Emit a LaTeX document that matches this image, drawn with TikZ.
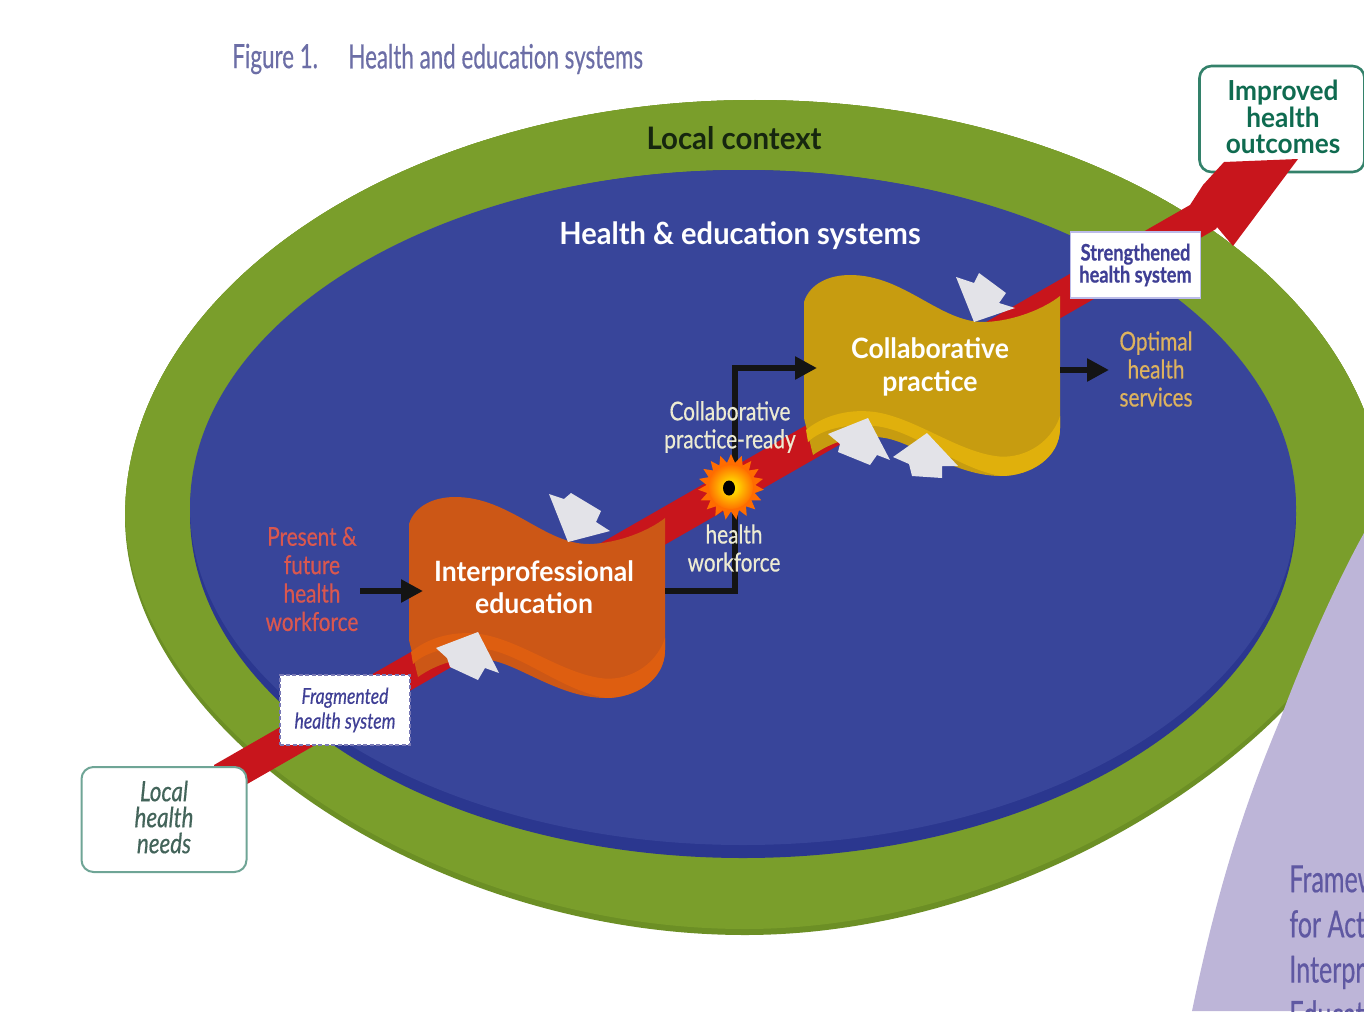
\documentclass[tikz,border=0pt]{standalone}
\usepackage{fontspec}
\usetikzlibrary{arrows.meta,shapes.geometric}
\setmainfont[FakeStretch=0.95]{Lato}
\newfontfamily\narrowfam[FakeStretch=0.8,FakeBold=0.5]{Lato}
\newfontfamily\headfam[FakeStretch=0.67,FakeBold=0.4]{Lato}
\definecolor{greenmain}{HTML}{7A9E2B}
\definecolor{greendark}{HTML}{6C8F25}
\definecolor{bluemain}{HTML}{38459A}
\definecolor{bluedark}{HTML}{2B378F}
\definecolor{lilac}{HTML}{BDB5D8}
\definecolor{lilactext}{HTML}{5F58A2}
\definecolor{redband}{HTML}{C8151C}
\definecolor{orangemain}{HTML}{CC5716}
\definecolor{orangerim}{HTML}{DE5E10}
\definecolor{goldmain}{HTML}{C79C10}
\definecolor{goldrim}{HTML}{E0B00C}
\definecolor{greyarrow}{HTML}{E3E3E8}
\definecolor{figtext}{HTML}{6C6EA6}
\definecolor{salmon}{HTML}{D9574F}
\definecolor{paletext}{HTML}{EDEBD2}
\definecolor{optimal}{HTML}{DDB25E}
\definecolor{sysblue}{HTML}{3F3F95}
\definecolor{needs}{HTML}{43645A}
\definecolor{needsline}{HTML}{6FA596}
\definecolor{outcome}{HTML}{0F6B50}
\definecolor{contexttext}{HTML}{16260F}
\tikzset{
  lbl/.style={inner sep=0pt,align=center},
  conn/.style={line width=3.4pt,black!92,-{Triangle[length=11pt,width=11pt]}},
  greyblock/.style={fill=greyarrow},
  roundbox/.style={draw,fill=white,rounded corners=6pt,inner sep=0pt,minimum width=82.5pt},
}
\newcommand{\outerpath}{(125,517) .. controls (125,287) and (407,100) .. (755,100) .. controls (1103,100) and (1385,287) .. (1385,517) .. controls (1385,690) and (1070,935) .. (745,935) .. controls (430,935) and (125,730) .. (125,517) -- cycle}
\newcommand{\flagpath}{(409,524) .. controls (415,505) and (435,497) .. (455,497) .. controls (510,497) and (545,545) .. (590,544) .. controls (620,543) and (650,530) .. (665,518) -- (665,650) .. controls (665,680) and (635,698) .. (606,698) .. controls (560,698) and (520,665) .. (490,660) .. controls (460,655) and (435,665) .. (418,677) -- (409,640) -- cycle}
\newcommand{\rimpath}{(665,638) .. controls (655,668) and (625,682) .. (600,678) .. controls (560,672) and (520,640) .. (480,634) .. controls (450,630) and (425,640) .. (411,652) -- (413,664) .. controls (425,652) and (450,645) .. (480,648) .. controls (520,652) and (560,690) .. (606,698) .. controls (635,698) and (665,680) .. (665,650) -- cycle}
\begin{document}
\begin{tikzpicture}[x=0.5pt,y=-0.5pt]
\useasboundingbox (0,0) rectangle (1364,1011);
\clip (0,0) rectangle (1364,1011);
% green context
\fill[greendark] \outerpath;
\begin{scope}
  \clip \outerpath;
  \fill[greenmain,yshift=3pt] \outerpath;
  \fill[greenmain] (0,0) rectangle (1364,500);
\end{scope}
% blue systems
\fill[bluedark] (743,514) ellipse [x radius=553,y radius=344];
\fill[bluemain] (743,507.5) ellipse [x radius=553,y radius=337.5];
% lilac
\fill[lilac] (1364,533) .. controls (1335,585) and (1300,665) .. (1280,720) .. controls (1240,815) and (1215,900) .. (1192,1011) -- (1364,1011) -- cycle;
% outcome box (under the arrow head)
\node[roundbox,draw=outcome!85,line width=1.3pt,minimum height=53pt] (outcomes) at (1282,119) {};
\node[lbl,text=outcome,font=\fontsize{13.8}{13.2}\selectfont\bfseries] (outcomestext) at (1283,117) {Improved\\health\\outcomes};
% red band
\fill[redband] (214,765) -- (1190,205) -- (1203,185) -- (1224,162) -- (1298,159) -- (1233,246) -- (1217,227) -- (1216,229) -- (214,803) -- cycle;
% flags
\fill[orangemain] \flagpath;
\fill[orangerim] \rimpath;
\begin{scope}[shift={(395,-222)}]
  \fill[goldmain] \flagpath;
  \fill[goldrim] \rimpath;
\end{scope}
% grey block arrows
\fill[greyblock] (549,494) -- (564,499) -- (571,493) -- (601,511) -- (596,522) -- (610,531) -- (568,542) -- cycle;
\fill[greyblock] (436,648) -- (478,632) -- (499,673) -- (485,668) -- (478,680) -- (450,667) -- (447,658) -- cycle;
\fill[greyblock] (828,434) -- (868,418) -- (890,460) -- (877,455) -- (870,465) -- (838,452) -- (840,444) -- cycle;
\fill[greyblock] (893,457) -- (927,433) -- (958,466) -- (942,466) -- (942,478) -- (912,476) -- (909,464) -- cycle;
\fill[greyblock] (956,277) -- (974,283) -- (979,273) -- (1006,293) -- (999,303) -- (1015,308) -- (974,322) -- cycle;
% anchor points on flags
\coordinate (ipein) at (423,591);
\coordinate (ipeout) at (665,591);
\coordinate (bend1) at (735,591);
\coordinate (bend2) at (735,368);
\coordinate (cpin) at (817,368);
\coordinate (cpout) at (1060,370);
\coordinate (optin) at (1109,370);
\coordinate (wfstart) at (360,591);
% connectors
\draw[conn] (wfstart) -- (ipein);
\draw[conn] (ipeout) -- (bend1) -- (bend2) -- (cpin);
\draw[conn] (cpout) -- (optin);
% flare
\node[star,star points=19,star point ratio=1.35,minimum size=33pt,inner sep=0pt,fill=orange!85!red] (flare) at (731,487) {};
\shade[inner color=yellow!95!orange,outer color=orange!90!red] (flare.center) circle [radius=22];
\fill[black] (729,488) ellipse [x radius=6,y radius=7.5];
% heading
\node[lbl,anchor=west,text=figtext,font=\headfam\fontsize{16.7}{18}\selectfont] (figno) at (232,59) {Figure 1.};
\node[lbl,anchor=west,text=figtext,font=\headfam\fontsize{16.7}{18}\selectfont] (figtitle) at (348,59) {Health and education systems};
\node[lbl,text=contexttext,font=\fontsize{15.5}{18}\selectfont\bfseries] (context) at (734,138) {Local context};
\node[lbl,text=white,font=\fontsize{15.3}{18}\selectfont\bfseries] (systems) at (740,236) {Health \& education systems};
\node[lbl,text=white,font=\fontsize{14}{16.2}\selectfont\bfseries] (ipe) at (534,587) {Interprofessional\\education};
\node[lbl,text=white,font=\fontsize{14}{16.5}\selectfont\bfseries] (cp) at (930,367) {Collaborative\\practice};
\node[lbl,text=salmon,font=\narrowfam\fontsize{13}{14.2}\selectfont] (present) at (312,579) {Present \&\\future\\health\\workforce};
\node[lbl,text=paletext,font=\narrowfam\fontsize{13}{14}\selectfont] (ready) at (730,427) {Collaborative\\practice-ready};
\node[lbl,text=paletext,font=\narrowfam\fontsize{13}{14}\selectfont] (workforce) at (734,548) {health\\workforce};
\node[lbl,text=optimal,font=\narrowfam\fontsize{13}{14}\selectfont] (optimal) at (1156,369) {Optimal\\health\\services};
% system boxes
\node[draw=gray!50!blue!35,fill=white,line width=0.8pt,minimum width=65pt,minimum height=33pt,inner sep=0pt,align=center,text=sysblue,font=\narrowfam\fontsize{11.4}{11}\selectfont\bfseries] (strong) at (1135.5,265) {Strengthened\\health system};
\node[draw=sysblue!70,dashed,dash pattern=on 2pt off 1.2pt,fill=white,line width=0.8pt,minimum width=65pt,minimum height=35pt,inner sep=0pt,align=center,text=sysblue,font=\narrowfam\fontsize{11}{12.4}\selectfont\itshape] (frag) at (345,710) {Fragmented\\health system};
\node[roundbox,draw=needsline,line width=1pt,minimum height=52.5pt] (needs) at (164,819.5) {};
\node[lbl,text=needs,font=\narrowfam\fontsize{14}{13}\selectfont\itshape] (needstext) at (164,817) {Local\\health\\needs};
% framework text
\node[lbl,anchor=north west,text=lilactext,font=\headfam\fontsize{18.7}{22.6}\selectfont,align=left] (framework) at (1289,865) {Framew\\for Actio\\Interpro\\Educati};
\end{tikzpicture}
\end{document}
